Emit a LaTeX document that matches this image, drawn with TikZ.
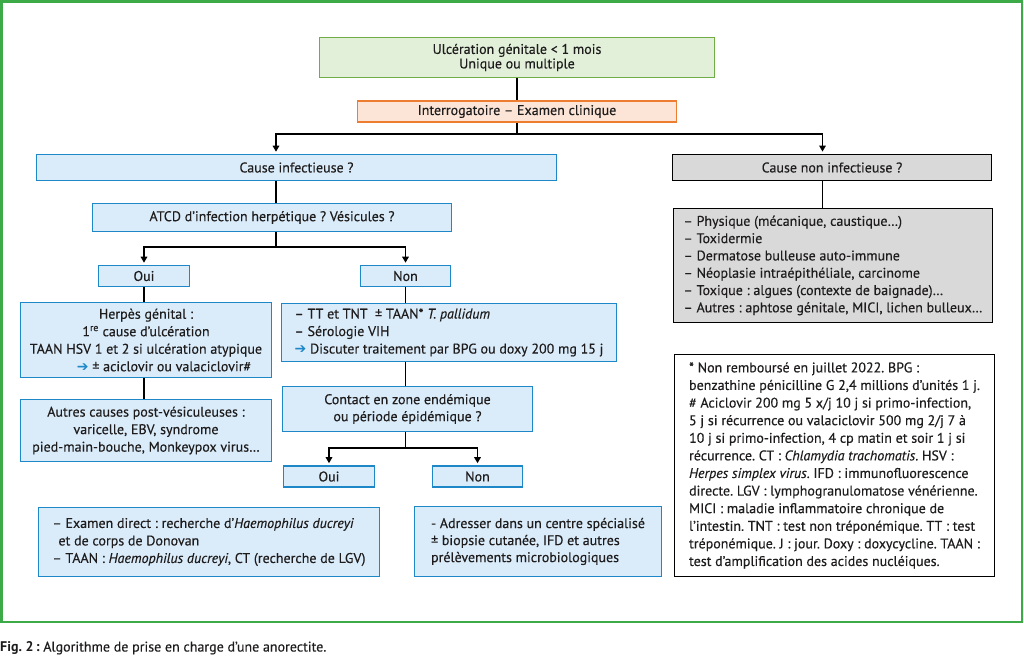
\documentclass[tikz,border=0pt]{standalone}
\usepackage{fontspec}
\setmainfont{PT Sans}[UprightFeatures={FakeBold=0.25}, ItalicFeatures={FakeBold=0.25}]
\newfontfamily\djv{DejaVu Sans}
\usetikzlibrary{arrows.meta,calc}
\definecolor{txt}{RGB}{30,28,28}
\definecolor{frameg}{RGB}{60,170,70}
\definecolor{topfill}{RGB}{226,240,217}
\definecolor{topdraw}{RGB}{112,173,71}
\definecolor{orfill}{RGB}{252,228,214}
\definecolor{ordraw}{RGB}{237,125,49}
\definecolor{bfill}{RGB}{218,236,250}
\definecolor{bdraw}{RGB}{30,135,200}
\definecolor{gfill}{RGB}{217,217,217}
\newcommand{\fs}{\fontsize{14}{17.5}\selectfont}
\newcommand{\barrow}{{\djv\color{bdraw}\fontsize{14}{14}\selectfont ➔}}
\frenchspacing
\begin{document}
\begin{tikzpicture}[x=1pt,y=-1pt,
  every node/.style={text=txt},
  basebox/.style={draw, line width=1.6pt, inner sep=0pt, align=center, font=\fs},
  bbox/.style={basebox, draw=bdraw, fill=bfill},
  gbox/.style={basebox, draw=black, fill=gfill, line width=1.8pt},
  conn/.style={line width=1.8pt, draw=black},
  arr/.style={conn, -{Triangle[length=6pt,width=6.5pt]}, shorten >=2pt},
]
\useasboundingbox (0,0) rectangle (1024,659);
\draw[frameg, line width=2.6pt] (1.5,1.5) rectangle (1022,622);

% top
\node[basebox, draw=topdraw, fill=topfill, minimum width=395pt, minimum height=40pt,
  font=\fontsize{14}{14.5}\selectfont] (top) at (517,57.5) {Ulcération génitale < 1 mois\\Unique ou multiple};
\node[basebox, draw=ordraw, fill=orfill, minimum width=319pt, minimum height=21pt] (interr) at (517,111.5) {Interrogatoire – Examen clinique};

\node[bbox, minimum width=520pt, minimum height=26pt] (ci) at (296.5,167.5) {Cause infectieuse ?};
\node[gbox, minimum width=319pt, minimum height=26pt] (cni) at (832,167.5) {Cause non infectieuse ?};

\node[bbox, minimum width=359pt, minimum height=28pt] (atcd) at (272,217.5) {ATCD d’infection herpétique ? Vésicules ?};
\node[bbox, minimum width=91pt, minimum height=21pt] (oui) at (144,276) {Oui};
\node[bbox, minimum width=90pt, minimum height=21pt] (non) at (405.5,276) {Non};

\node[bbox, minimum width=251pt, minimum height=75pt] (herpes) at (146,340)
 {Herpès génital :\\1\textsuperscript{re} cause d’ulcération\\TAAN HSV 1 et 2 si ulcération atypique\\\hspace*{36pt}\barrow{} ± aciclovir ou valaciclovir\#};
\node[bbox, minimum width=251pt, minimum height=62pt] (autres) at (146,430.5)
 {Autres causes post-vésiculeuses :\\varicelle, EBV, syndrome\\pied-main-bouche, Monkeypox virus…};

\node[bbox, minimum width=335pt, minimum height=58pt, align=left] (tt) at (449,332.5)
 {– TT et TNT\ \ ± TAAN* \textit{T. pallidum}\\– Sérologie VIH\\\barrow{} Discuter traitement par BPG ou doxy 200 mg 15 j};
\node[bbox, minimum width=250pt, minimum height=45pt, font=\fontsize{14}{17}\selectfont] (contact) at (407.5,409)
 {Contact en zone endémique\\ou période épidémique ?};
\node[bbox, minimum width=91pt, minimum height=21pt] (oui2) at (329,476.5) {Oui};
\node[bbox, minimum width=90pt, minimum height=21pt] (non2) at (477.5,476.5) {Non};

\node[bbox, minimum width=341pt, minimum height=69pt, align=left] (exam) at (209,542)
 {– Examen direct : recherche d’\textit{Haemophilus ducreyi}\\\hspace*{6pt}et de corps de Donovan\\– TAAN : \textit{Haemophilus ducreyi}, CT (recherche de LGV)};
\node[bbox, minimum width=247pt, minimum height=70pt, align=left, font=\fontsize{14}{17}\selectfont] (adr) at (538,541.5)
 {- Adresser dans un centre spécialisé\\± biopsie cutanée, IFD et autres\\prélèvements microbiologiques};

\node[gbox, minimum width=319pt, minimum height=114pt, align=left, font=\fontsize{14}{17.3}\selectfont] (list) at (833,265.5)
 {– Physique (mécanique, caustique…)\\– Toxidermie\\– Dermatose bulleuse auto-immune\\– Néoplasie intraépithéliale, carcinome\\– Toxique : algues (contexte de baignade)…\\– Autres : aphtose génitale, MICI, lichen bulleux…};

\node[basebox, draw=black, fill=white, line width=1.8pt, minimum width=320pt, minimum height=222pt, align=left, font=\fontsize{14}{17.6}\selectfont] (foot) at (834.5,465.5)
 {* Non remboursé en juillet 2022. BPG :\\benzathine pénicilline G 2,4 millions d’unités 1 j.\\\# Aciclovir 200 mg 5 x/j 10 j si primo-infection,\\5 j si récurrence ou valaciclovir 500 mg 2/j 7 à\\10 j si primo-infection, 4 cp matin et soir 1 j si\\récurrence. CT : \textit{Chlamydia trachomatis}. HSV :\\\textit{Herpes simplex virus}. IFD : immunofluorescence\\directe. LGV : lymphogranulomatose vénérienne.\\MICI : maladie inflammatoire chronique de\\l’intestin. TNT : test non tréponémique. TT : test\\tréponémique. J : jour. Doxy : doxycycline. TAAN :\\test d’amplification des acides nucléiques.};

\node[anchor=west, inner sep=0pt, font=\fontsize{14}{16}\selectfont] (cap) at (0,648)
 {\textbf{Fig. 2\,:} Algorithme de prise en charge d’une anorectite.};

% connectors
\coordinate (j1) at ($(interr.south)+(0,11)$);
\coordinate (cil) at ($(ci.north)+(-20.5,0)$);
\coordinate (cnil) at ($(cni.north)+(-9.5,0)$);
\draw[conn] (top.south) -- (interr.north);
\draw[conn] (interr.south) -- (j1);
\draw[arr] (j1) -| (cil);
\draw[arr] (j1) -| (cnil);
\draw[conn] (cni.south -| cnil) -- (list.north -| cnil);
\draw[conn] (ci.south -| cil) -- (atcd.north -| cil);
\coordinate (j2) at ($(atcd.south -| cil)+(0,15)$);
\draw[conn] (atcd.south -| cil) -- (j2);
\draw[arr] (j2) -| (oui.north);
\draw[arr] (j2) -| (non.north);
\draw[conn] (oui.south) -- (oui.south |- herpes.north);
\draw[conn] (herpes.south -| oui.south) -- (autres.north -| oui.south);
\draw[conn] (non.south) -- (non.south |- tt.north);
\draw[conn] (tt.south -| non.south) -- (contact.north -| non.south);
\coordinate (j3) at ($(contact.south -| non.south)+(0,16)$);
\draw[conn] (contact.south -| non.south) -- (j3);
\draw[arr] (j3) -| (oui2.north);
\draw[arr] (j3) -| (non2.north);
\end{tikzpicture}
\end{document}
